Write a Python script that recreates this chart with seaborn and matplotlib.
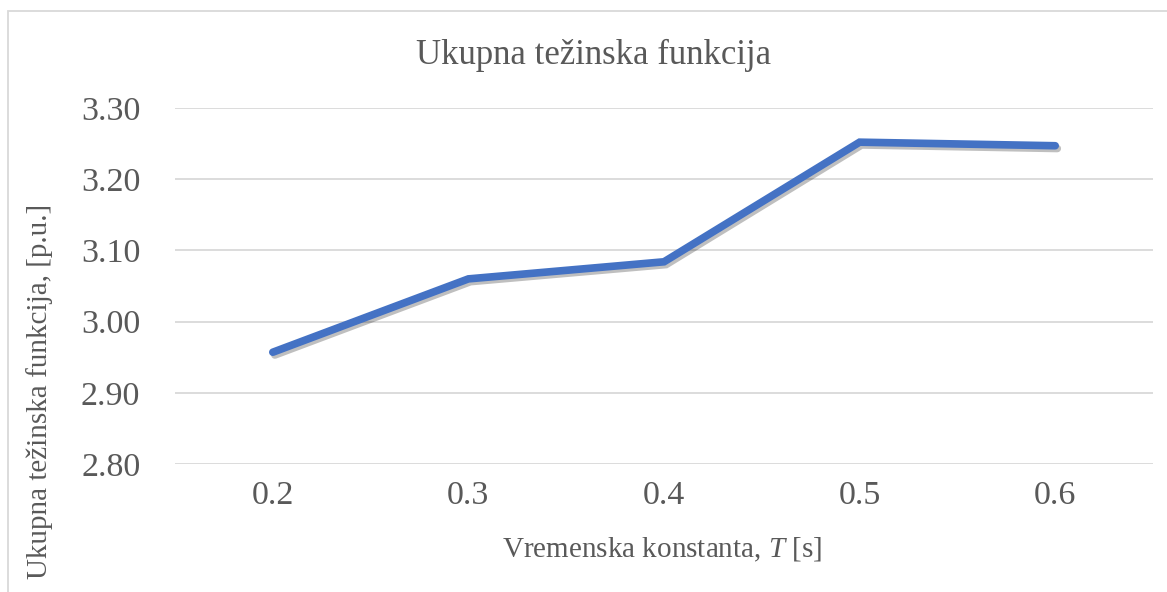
import pandas as pd
import seaborn as sns
import matplotlib.pyplot as plt
import matplotlib.patheffects as pe
from matplotlib.patches import Rectangle

# Data
time_constants = ["0.2", "0.3", "0.4", "0.5", "0.6"]
weight_values = [2.957, 3.060, 3.084, 3.252, 3.247]
y_ticks = [2.80, 2.90, 3.00, 3.10, 3.20, 3.30]

df = pd.DataFrame({"T": time_constants, "value": weight_values})

sns.set_style("white")
plt.rcParams["font.family"] = ["Liberation Serif", "DejaVu Serif"]
plt.rcParams["mathtext.fontset"] = "custom"
plt.rcParams["mathtext.rm"] = "Liberation Serif"
plt.rcParams["mathtext.it"] = "Liberation Serif:italic"
text_color = "#595959"

fig = plt.figure(figsize=(11.67, 5.92), dpi=100)
ax = fig.add_axes([175 / 1167, 1 - 464 / 592, (1153 - 175) / 1167, (464 - 108) / 592])

sns.lineplot(data=df, x="T", y="value", ax=ax, color="#4472C4", linewidth=5.5,
             solid_capstyle="round", solid_joinstyle="miter", sort=False,
             path_effects=[pe.SimpleLineShadow(offset=(1.5, -2), alpha=0.25), pe.Normal()])

ax.set_xlim(-0.5, len(time_constants) - 0.5)
ax.set_ylim(y_ticks[0], y_ticks[-1])
ax.set_yticks(y_ticks)
ax.set_yticklabels([f"{v:.2f}" for v in y_ticks])
ax.yaxis.grid(True, color="#D9D9D9", linewidth=1.3)
ax.set_axisbelow(True)
for s in ax.spines.values():
    s.set_visible(False)
ax.tick_params(axis="both", length=0, labelsize=24.5, colors=text_color)
ax.tick_params(axis="y", pad=25)
ax.tick_params(axis="x", pad=12)
ax.set_xlabel("")
ax.set_ylabel("")

fig.text(594 / 1167, 1 - 55 / 592, "Ukupna težinska funkcija", ha="center", va="center",
         fontsize=25, color=text_color)
fig.text(662 / 1167, 1 - 550 / 592, "Vremenska konstanta, $\\mathit{T}$ [s]", ha="center",
         va="center", fontsize=21, color=text_color)
fig.text(40 / 1167, 1 - 391 / 592, "Ukupna težinska funkcija, [p.u.]", ha="center",
         va="center", rotation=90, fontsize=21, color=text_color)

# chart area border
fig.patches.append(Rectangle((8 / 1167, -0.05), 1.2, 1 - 11 / 592 + 0.05,
                             transform=fig.transFigure, fill=False,
                             edgecolor="#D9D9D9", linewidth=1.3))

fig.savefig("out.png", dpi=100)
